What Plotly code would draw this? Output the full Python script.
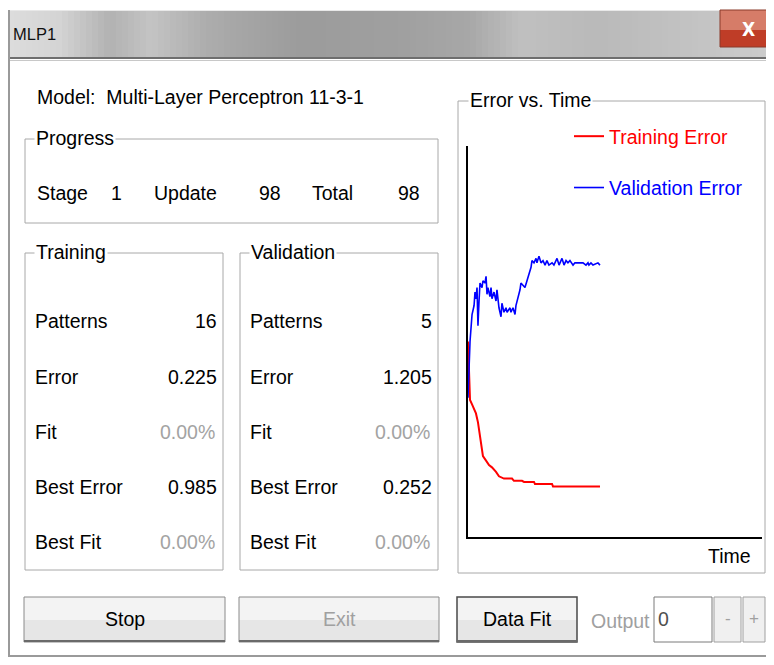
import plotly.graph_objects as go

# The page adds an 8px body margin on every side; the figure is sized so the
# whole page is exactly 774x665 and reference pixel positions are shifted by 8px.
REF_W, REF_H = 774, 665
OFF = 8
W, H = REF_W - 2 * OFF, REF_H - 2 * OFF
MAXX, MAXY = REF_W - OFF - 1, REF_H - OFF - 1

# ---------------- data ----------------
time_train = [0, 1.5, 3.0, 5.9, 7.4, 8.9, 9.7, 11.1, 13.4, 15.6, 17.8, 20.8, 23.0,
              26.7, 32.7, 34.1, 40.1, 41.6, 49.0, 49.7, 62.4, 63.1, 98.0]
train_err = [0.87, 0.61, 0.59, 0.55, 0.51, 0.45, 0.40, 0.36, 0.34, 0.32, 0.31, 0.29, 0.27,
             0.26, 0.26, 0.25, 0.25, 0.245, 0.245, 0.236, 0.236, 0.225, 0.225]

time_val = [0, 1.5, 3.0, 4.5, 5.2, 5.9, 6.7, 7.4, 8.2, 8.9, 10.4, 11.1, 12.6, 13.4, 14.1,
            14.8, 16.3, 17.1, 17.8, 19.3, 20.8, 21.5, 23.0, 24.5, 25.2, 26.7, 28.2, 29.0,
            31.2, 31.9, 33.4, 34.9, 35.6, 37.1, 38.6, 39.3, 40.8, 42.3, 43.8, 45.3, 46.8,
            47.5, 49.0, 50.5, 51.2, 52.7, 54.2, 55.7, 57.2, 58.6, 60.1, 62.4, 63.8, 66.1,
            67.6, 69.8, 71.3, 72.8, 74.2, 75.7, 78.0, 79.4, 81.7, 85.4, 87.6, 89.1, 89.8,
            91.3, 92.8, 96.5, 98.0]
val_err = [0.62, 0.87, 0.99, 1.03, 1.09, 1.06, 1.11, 0.94, 1.05, 1.13, 1.11, 1.14, 1.13, 1.16, 1.08,
           1.11, 1.07, 1.11, 1.06, 1.09, 1.05, 1.10, 1.02, 0.98, 1.04, 1.00, 1.02, 1.00,
           1.02, 1.00, 1.02, 0.99, 1.03, 1.06, 1.10, 1.13, 1.12, 1.11, 1.14, 1.17, 1.20,
           1.23, 1.22, 1.24, 1.22, 1.25, 1.22, 1.23, 1.21, 1.23, 1.21, 1.22, 1.21, 1.24,
           1.21, 1.24, 1.21, 1.23, 1.22, 1.23, 1.21, 1.22, 1.22, 1.22, 1.21, 1.22, 1.21,
           1.22, 1.21, 1.22, 1.21]

series_names = ["Training Error", "Validation Error"]
series_colors = ["#ff0000", "#0000ff"]

model_text = "Model:  Multi-Layer Perceptron 11-3-1"
progress_labels = ["Stage", "Update", "Total"]
progress_values = ["1", "98", "98"]

row_labels = ["Patterns", "Error", "Fit", "Best Error", "Best Fit"]
training_values = ["16", "0.225", "0.00%", "0.985", "0.00%"]
validation_values = ["5", "1.205", "0.00%", "0.252", "0.00%"]
value_enabled = [True, True, False, True, False]

button_labels = ["Stop", "Exit", "Data Fit"]
button_enabled = [True, False, True]

# ---------------- helpers ----------------
FONT = "Liberation Sans, Arial, sans-serif"
FS = 19.5


def px(x):
    return (x - OFF) / W


def py(y):
    return 1 - (y - OFF) / H


shapes = []
annotations = []


def rect(x0, y0, x1, y1, fill=None, line=None, lw=1):
    shapes.append(dict(type="rect", xref="paper", yref="paper",
                       x0=px(x0), x1=px(x1), y0=py(y1), y1=py(y0),
                       fillcolor=fill if fill else "rgba(0,0,0,0)",
                       line=dict(color=line if line else "rgba(0,0,0,0)", width=lw if line else 0)))


def hline(x0, x1, y, color, lw=1):
    shapes.append(dict(type="line", xref="paper", yref="paper",
                       x0=px(x0), x1=px(x1), y0=py(y), y1=py(y),
                       line=dict(color=color, width=lw)))


def vline(x, y0, y1, color, lw=1):
    shapes.append(dict(type="line", xref="paper", yref="paper",
                       x0=px(x), x1=px(x), y0=py(y0), y1=py(y1),
                       line=dict(color=color, width=lw)))


def text(t, x, y, anchor="left", color="#000000", size=FS, bg=None, family=FONT):
    a = dict(text=t, xref="paper", yref="paper", x=px(x), y=py(y),
             xanchor=anchor, yanchor="middle", showarrow=False,
             font=dict(family=family, size=size, color=color), borderpad=1)
    if bg:
        a["bgcolor"] = bg
    annotations.append(a)


# ---------------- window chrome ----------------
keys = [(0, 222), (60, 212), (110, 178), (150, 196), (210, 172), (300, 156),
        (400, 160), (470, 168), (520, 192), (600, 186), (700, 196), (774, 205)]
step = 6
for x0 in range(OFF, REF_W, step):
    xc = x0 + step / 2
    g = keys[-1][1]
    for (a, ga), (b, gb) in zip(keys[:-1], keys[1:]):
        if a <= xc <= b:
            g = int(ga + (gb - ga) * (xc - a) / (b - a))
            break
    rect(x0, 10, x0 + step + 0.5, 57, fill=f"rgb({g},{g},{g})")
hline(OFF, REF_W, 10.5, "#e8e8e8", 1)
hline(OFF, REF_W, 58, "#6e6e6e", 2)
hline(OFF, REF_W, 60.5, "#c8c8c8", 1)
text("MLP1", 11, 34, size=16.5, color="#101010")

# close button
rect(720, 10, 776, 30, fill="#d67c68")
rect(720, 30, 776, 47, fill="#bf3d27")
rect(720, 10, 776, 47, line="#8a3a2a", lw=1)
text("<b>X</b>", 748, 29, anchor="center", size=19, color="#ffffff",
     family="DejaVu Sans Condensed, DejaVu Sans")

# window frame
vline(9, 10, min(660, MAXY), "#9a9a9a", 2)
hline(8, REF_W, min(660, MAXY), "#9a9a9a", 2)

# ---------------- left panel ----------------
text(model_text, 35, 97)

rect(25, 139, 438, 223, line="#a8a8a8", lw=1)
text("Progress", 34, 138, bg="#ffffff")
text(progress_labels[0], 35, 193)
text(progress_values[0], 116, 193, anchor="center")
text(progress_labels[1], 152, 193)
text(progress_values[1], 283, 193, anchor="right")
text(progress_labels[2], 310, 193)
text(progress_values[2], 422, 193, anchor="right")

row_y = [321, 377, 432, 487, 542]
for (bx0, bx1, title, vals) in [(25, 223, "Training", training_values),
                                 (240, 438, "Validation", validation_values)]:
    rect(bx0, 253, bx1, 570, line="#a8a8a8", lw=1)
    text(title, bx0 + 9, 252, bg="#ffffff")
    for lab, val, en, yy in zip(row_labels, vals, value_enabled, row_y):
        text(lab, bx0 + 8, yy)
        text(val, bx1 - 4 if en else bx1 - 6, yy, anchor="right",
             color="#000000" if en else "#a3a3a3")

# ---------------- chart group ----------------
rect(458, 101, min(771, MAXX), 573, line="#a8a8a8", lw=1)
text("Error vs. Time", 468, 100, bg="#ffffff")
text("Time", 753, 556, anchor="right")

# ---------------- buttons ----------------
btn_boxes = [(24, 225), (239, 439), (457, 577)]
for (x0, x1), lab, en in zip(btn_boxes, button_labels, button_enabled):
    rect(x0, 597, x1, 620, fill="#f3f3f3")
    rect(x0, 620, x1, 642, fill="#e6e6e6")
    rect(x0, 597, x1, 642, line="#8a8a8a" if lab != "Data Fit" else "#4a4a4a",
         lw=1 if lab != "Data Fit" else 1.5)
    hline(x0, x1, 641, "#6a6a6a", 2)
    text(lab, (x0 + x1) / 2, 619, anchor="center", color="#000000" if en else "#a0a0a0")

text("Output", 589, 621, color="#a0a0a0")
rect(654, 597, 712, 642, fill="#ffffff", line="#7a7a7a", lw=1)
text("0", 656, 619, color="#505050")
for (x0, x1, s) in [(714, 741, "-"), (743, min(770, MAXX), "+")]:
    rect(x0, 597, x1, 642, fill="#f0f0f0", line="#a0a0a0", lw=1)
    text(s, (x0 + x1) / 2, 618, anchor="center", color="#a0a0a0", size=17)

# ---------------- the chart ----------------
fig = go.Figure()
for t, e, name, col, lw in [(time_train, train_err, series_names[0], series_colors[0], 2),
                            (time_val, val_err, series_names[1], series_colors[1], 1.6)]:
    fig.add_trace(go.Scatter(x=t, y=e, mode="lines",
                             name=f"<span style='color:{col}'>{name}</span>",
                             line=dict(color=col, width=lw), legendgroup=name, hoverinfo="skip"))

ax_x0, ax_x1 = 468, 762
ax_y0, ax_y1 = 537, 146
fig.update_layout(
    width=W, height=H,
    margin=dict(l=0, r=0, t=0, b=0),
    paper_bgcolor="#ffffff", plot_bgcolor="rgba(0,0,0,0)",
    xaxis=dict(domain=[px(ax_x0), px(ax_x1)], range=[0, 218.3], showgrid=False, zeroline=False,
               showticklabels=False, ticks="", showline=True, linecolor="#000000", linewidth=2,
               fixedrange=True),
    yaxis=dict(domain=[py(ax_y0), py(ax_y1)], range=[0, 1.74], showgrid=False, zeroline=False,
               showticklabels=False, ticks="", showline=True, linecolor="#000000", linewidth=2,
               fixedrange=True),
    showlegend=True,
    legend=dict(x=px(569), y=py(117), xanchor="left", yanchor="top",
                font=dict(family=FONT, size=FS), itemwidth=30, bgcolor="rgba(0,0,0,0)",
                traceorder="grouped", tracegroupgap=23),
    shapes=shapes,
    annotations=annotations,
)

fig.write_html("out.html")
